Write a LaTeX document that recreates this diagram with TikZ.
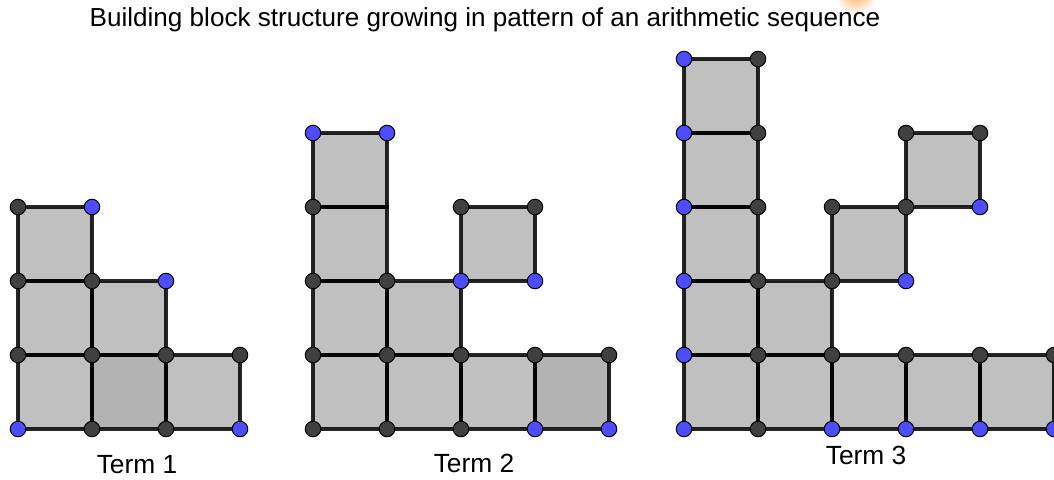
\documentclass[tikz,border=0pt]{standalone}
\usepackage{fontspec}
\setmainfont{Liberation Sans}
\definecolor{sqfill}{HTML}{C0C0C0}
\definecolor{sqdark}{HTML}{B3B3B3}
\definecolor{dotdark}{HTML}{404040}
\definecolor{dotblue}{HTML}{4D4DFF}
\tikzset{
  sqbox/.style={fill=sqfill},
  sqboxdark/.style={fill=sqdark},
  sqedge/.style={draw=black, draw opacity=0.85, line width=3.4pt},
  dotd/.style={circle, fill=dotdark, draw=black, line width=1pt, inner sep=0pt, minimum size=15.5pt},
  dotb/.style={dotd, fill=dotblue},
  titletext/.style={font=\fontsize{26.1}{31}\selectfont, anchor=base},
  termtext/.style={font=\fontsize{26.3}{31}\selectfont, anchor=base},
}
\begin{document}
\begin{tikzpicture}[x=1pt,y=-1pt]
\useasboundingbox (0,0) rectangle (1054,479);
\clip (0,0) rectangle (1054,479);
\shade[inner color=orange!70, outer color=white] (856,-8) circle (22);
\node[titletext] (title) at (485,27) {Building block structure growing in pattern of an arithmetic sequence};
% square fills
\foreach \x/\y in {18/429,166/429,18/355,92/355,18/281,
  313/429,387/429,461/429,313/355,387/355,313/281,461/281,313/207,
  684/429,758/429,832/429,906/429,980/429,684/355,758/355,684/281,832/281,684/207,906/207,684/133}
  \path[sqbox] (\x,\y) rectangle ++(74,-74);
\foreach \x/\y in {92/429,535/429}
  \path[sqboxdark] (\x,\y) rectangle ++(74,-74);
% square edges
\foreach \x/\y in {18/429,92/429,166/429,18/355,92/355,18/281,
  313/429,387/429,461/429,535/429,313/355,387/355,313/281,461/281,313/207,
  684/429,758/429,832/429,906/429,980/429,684/355,758/355,684/281,832/281,684/207,906/207,684/133}
  \path[sqedge] (\x,\y) rectangle ++(74,-74);
% dark points
\foreach \x/\y [count=\i] in {18/207,18/281,92/281,18/355,92/355,166/355,240/355,92/429,166/429,
  313/207,461/207,535/207,313/281,387/281,313/355,387/355,461/355,535/355,609/355,313/429,387/429,461/429,
  758/59,758/133,758/207,758/281,758/355,758/429,832/207,832/281,832/355,906/133,906/207,906/355,980/133,980/355,1054/355}
  \node[dotd] (d\i) at (\x,\y) {};
% blue points
\foreach \x/\y [count=\i] in {92/207,166/281,18/429,240/429,
  313/133,387/133,461/281,535/281,535/429,609/429,
  684/59,684/133,684/207,684/281,684/355,684/429,832/429,906/281,906/429,980/207,980/429,1054/429}
  \node[dotb] (b\i) at (\x,\y) {};
\node[termtext] (t1) at (137,473) {Term 1};
\node[termtext] (t2) at (474,472) {Term 2};
\node[termtext] (t3) at (866,464) {Term 3};
\end{tikzpicture}
\end{document}
